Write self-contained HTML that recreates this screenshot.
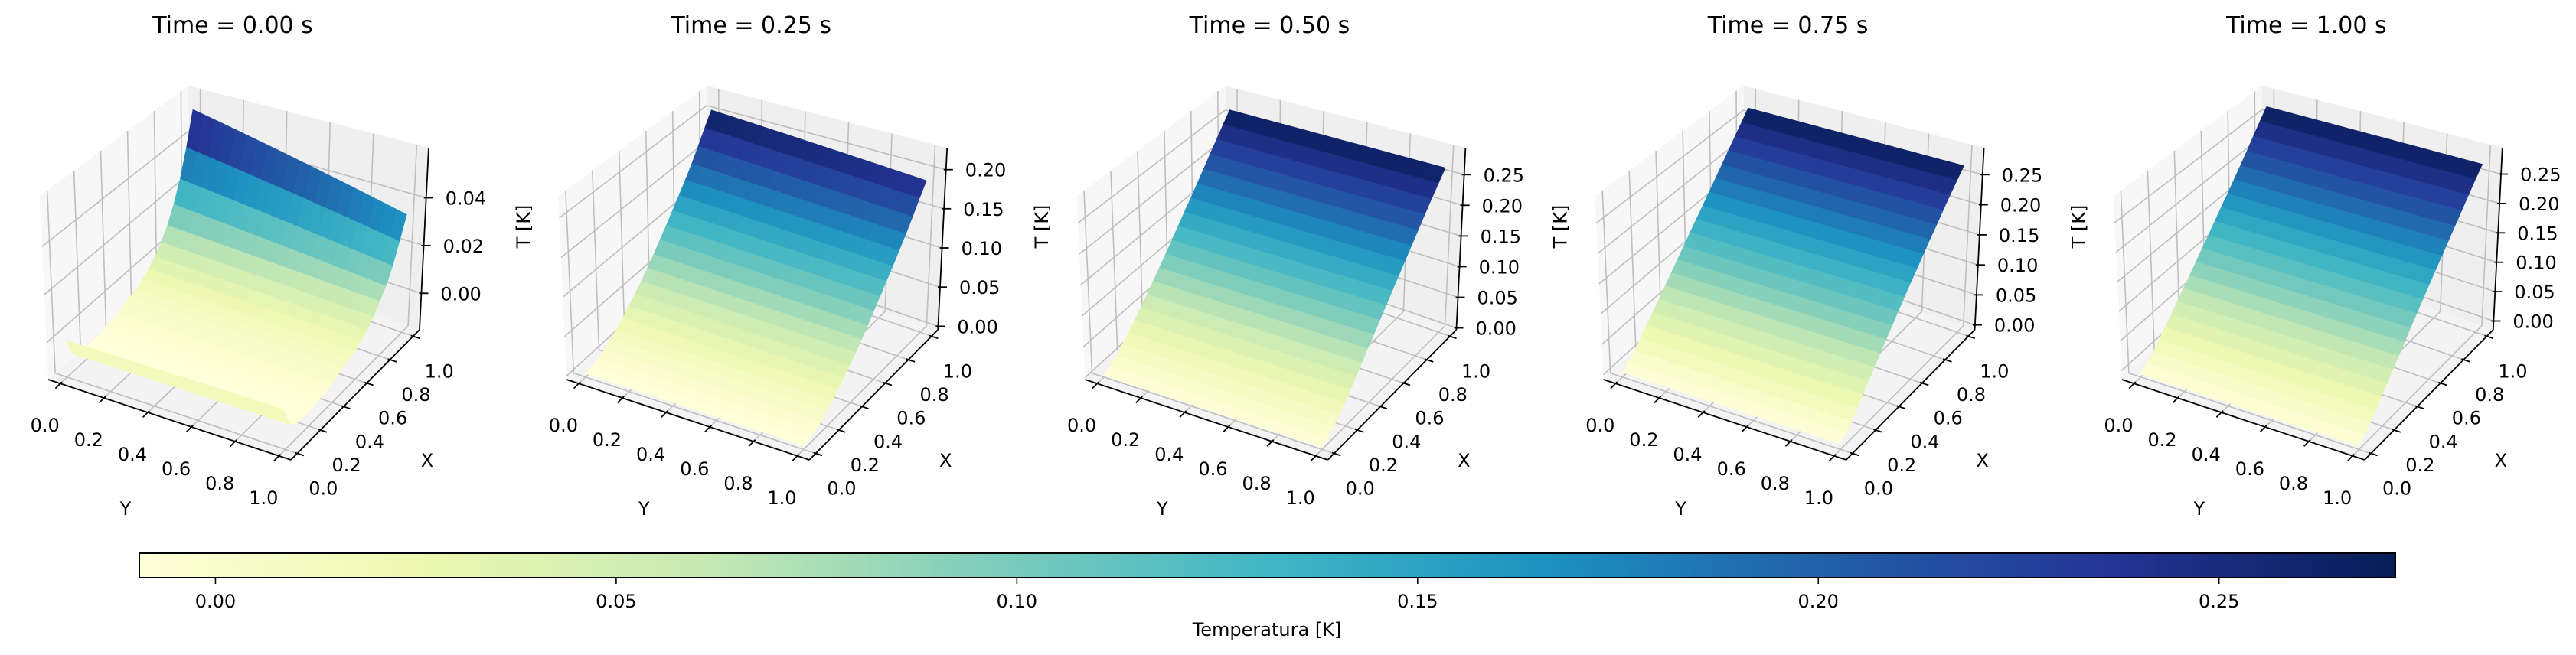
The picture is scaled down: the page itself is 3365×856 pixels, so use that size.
<!DOCTYPE html>
<html><head><meta charset="utf-8"><style>
html,body{margin:0;padding:0;background:#fff;}
svg{display:block;font-family:"DejaVu Sans","Liberation Sans",sans-serif;}
</style></head><body>
<svg id="fig" width="3365" height="856" viewBox="0 0 3365 856" xmlns="http://www.w3.org/2000/svg">
<defs>
<linearGradient id="cbgrad" x1="0" x2="1" y1="0" y2="0">
<stop offset="0" stop-color="#ffffd9"/><stop offset="0.125" stop-color="#edf8b1"/><stop offset="0.25" stop-color="#c7e9b4"/><stop offset="0.375" stop-color="#7fcdbb"/><stop offset="0.5" stop-color="#41b6c4"/><stop offset="0.625" stop-color="#1d91c0"/><stop offset="0.75" stop-color="#225ea8"/><stop offset="0.875" stop-color="#253494"/><stop offset="1" stop-color="#081d58"/>
</linearGradient>
</defs>
<g id="panels"></g>
<g id="colorbar"></g>
</svg>
<script>
const times = ["0.00","0.25","0.50","0.75","1.00"];
const xNodes = [0,0.05,0.1,0.15,0.2,0.25,0.3,0.35,0.4,0.45,0.5,0.55,0.6,0.65,0.7,0.75,0.8,0.85,0.9,0.95,1.0];
const p0y0 = [0.000,-0.008,-0.010,-0.010,-0.010,-0.010,-0.009,-0.009,-0.008,-0.007,-0.006,-0.005,-0.003,-0.001,0.002,0.006,0.011,0.018,0.027,0.039,0.054];
const p0y1 = [0.000,-0.008,-0.010,-0.010,-0.010,-0.010,-0.009,-0.009,-0.008,-0.007,-0.006,-0.005,-0.004,-0.002,0.000,0.003,0.007,0.011,0.017,0.025,0.034];
const p1y0 = [0,0.001,0.004,0.008,0.014,0.020,0.027,0.035,0.044,0.053,0.063,0.074,0.086,0.098,0.111,0.124,0.138,0.153,0.170,0.188,0.206];
const p1y1 = [0,0.001,0.004,0.007,0.013,0.018,0.025,0.032,0.040,0.049,0.058,0.068,0.079,0.090,0.102,0.114,0.127,0.141,0.156,0.173,0.189];
const p2y0 = [0,0.005,0.013,0.022,0.032,0.043,0.055,0.067,0.080,0.093,0.107,0.121,0.136,0.151,0.166,0.182,0.198,0.215,0.232,0.249,0.266];
const p2y1 = [0,0.005,0.013,0.022,0.032,0.043,0.055,0.067,0.080,0.093,0.107,0.121,0.135,0.150,0.165,0.181,0.197,0.214,0.231,0.248,0.265];
const p3y0 = [0,0.007,0.017,0.028,0.040,0.052,0.065,0.078,0.091,0.104,0.118,0.132,0.146,0.160,0.175,0.190,0.205,0.221,0.237,0.253,0.270];
const p3y1 = [0,0.007,0.017,0.028,0.040,0.052,0.065,0.078,0.091,0.104,0.118,0.132,0.146,0.160,0.175,0.190,0.205,0.221,0.237,0.253,0.269];
const p4y0 = [-0.010,-0.002,0.008,0.019,0.031,0.043,0.056,0.069,0.082,0.096,0.110,0.124,0.139,0.154,0.169,0.185,0.201,0.218,0.236,0.254,0.272];
const p4y1 = [-0.010,-0.002,0.008,0.019,0.031,0.043,0.056,0.069,0.082,0.096,0.110,0.124,0.139,0.154,0.169,0.185,0.201,0.218,0.236,0.254,0.271];
const zLo = [-0.0153,-0.0045,-0.003,-0.008,-0.015];
const zHi = [0.061,0.228,0.294,0.295,0.295];
const zTicks0 = [0.00,0.02,0.04];
const zTicks1 = [0.00,0.05,0.10,0.15,0.20];
const zTicks2 = [0.00,0.05,0.10,0.15,0.20,0.25];
const xyTicks = [0.0,0.2,0.4,0.6,0.8,1.0];
const cbTicks = [0.00,0.05,0.10,0.15,0.20,0.25];
const cbMin = -0.0095, cbMax = 0.272;

const profiles = [[p0y0,p0y1],[p1y0,p1y1],[p2y0,p2y1],[p3y0,p3y1],[p4y0,p4y1]];
const zTickSets = [zTicks0,zTicks1,zTicks2,zTicks2,zTicks2];

const NS = "http://www.w3.org/2000/svg";
function mk(tag, attrs, parent){const e=document.createElementNS(NS,tag);for(const k in attrs)e.setAttribute(k,attrs[k]);if(parent)parent.appendChild(e);return e;}

const stops = ["#ffffd9","#edf8b1","#c7e9b4","#7fcdbb","#41b6c4","#1d91c0","#225ea8","#253494","#081d58"].map(h=>[parseInt(h.slice(1,3),16),parseInt(h.slice(3,5),16),parseInt(h.slice(5,7),16)]);
function cmap(t){t=Math.max(0,Math.min(1,t));const s=t*8;const i=Math.min(7,Math.floor(s));const f=s-i;const a=stops[i],b=stops[i+1];return "rgb("+[0,1,2].map(k=>Math.round(a[k]+(b[k]-a[k])*f)).join(",")+")";}

// box geometry (panel-local pixels)
const G = {Lf:[63,496],Ff:[380,601],Rf:[548,431],Bf:[247,327],Lt:[52,256],Ft:[365,336],Rt:[560,193],Bt:[246,112]};
const AX_LO=-0.055, AX_HI=1.055;
function bil(P,Q,R,S,u,v){ // P:(u0,v0)=L Q:(u0,v1)=F R:(u1,v1) S:(u1,v0)=B
  return [0,1].map(k=>(1-u)*(1-v)*P[k]+(1-u)*v*Q[k]+u*v*R[k]+u*(1-v)*S[k]);}
function proj(x,y,z,pi){
  const u=(x-AX_LO)/(AX_HI-AX_LO), v=(y-AX_LO)/(AX_HI-AX_LO);
  const w=(z-zLo[pi])/(zHi[pi]-zLo[pi]);
  const f=bil(G.Lf,G.Ff,G.Rf,G.Bf,u,v), t=bil(G.Lt,G.Ft,G.Rt,G.Bt,u,v);
  return [f[0]+(t[0]-f[0])*w, f[1]+(t[1]-f[1])*w];}
function pt(p){return p[0].toFixed(1)+","+p[1].toFixed(1);}

const panels=document.getElementById("panels");
times.forEach((tm,pi)=>{
  const g=mk("g",{transform:"translate("+(677.2*pi).toFixed(1)+",0)"},panels);
  
  
  const lo=zLo[pi], hi=zHi[pi], A=AX_LO, B=AX_HI;
  // panes
  const paneL=mk("polygon",{points:[proj(A,A,lo,pi),proj(B,A,lo,pi),proj(B,A,hi,pi),proj(A,A,hi,pi)].map(pt).join(" "),fill:"#f7f7f7"},g);
  
  
  const paneR=mk("polygon",{points:[proj(B,A,lo,pi),proj(B,B,lo,pi),proj(B,B,hi,pi),proj(B,A,hi,pi)].map(pt).join(" "),fill:"#efefef"},g);
  
  
  const paneF=mk("polygon",{points:[proj(A,A,lo,pi),proj(A,B,lo,pi),proj(B,B,lo,pi),proj(B,A,lo,pi)].map(pt).join(" "),fill:"#f3f3f3"},g);
  
  
  // grid
  const gg=mk("g",{stroke:"#bebebe","stroke-width":"1.6",fill:"none"},g);
  
  
  function line(p,q,par){return mk("line",{x1:p[0].toFixed(1),y1:p[1].toFixed(1),x2:q[0].toFixed(1),y2:q[1].toFixed(1)},par);}
  xyTicks.forEach(t=>{
    line(proj(t,A,lo,pi),proj(t,A,hi,pi),gg); // left pane vertical (x)
    line(proj(B,t,lo,pi),proj(B,t,hi,pi),gg); // right pane vertical (y)
    line(proj(t,A,lo,pi),proj(t,B,lo,pi),gg); // floor x
    line(proj(A,t,lo,pi),proj(B,t,lo,pi),gg); // floor y
  });
  zTickSets[pi].forEach(z=>{
    line(proj(A,A,z,pi),proj(B,A,z,pi),gg);
    line(proj(B,A,z,pi),proj(B,B,z,pi),gg);
  });
  // surface
  const [py0,py1]=profiles[pi];
  let mn=Infinity,mx=-Infinity;
  py0.concat(py1).forEach(v=>{mn=Math.min(mn,v);mx=Math.max(mx,v);});
  const NY=20, facets=[];
  function val(i,j){const s=j/NY;return py0[i]+(py1[i]-py0[i])*s;}
  for(let i=0;i<xNodes.length-1;i++){for(let j=0;j<NY;j++){
    const y0=j/NY,y1=(j+1)/NY,x0=xNodes[i],x1=xNodes[i+1];
    const z00=val(i,j),z01=val(i,j+1),z11=val(i+1,j+1),z10=val(i+1,j);
    const zm=(z00+z01+z11+z10)/4;
    facets.push({d:(x0+x1)/2+(1-(y0+y1)/2),pts:[proj(x0,y0,z00,pi),proj(x0,y1,z01,pi),proj(x1,y1,z11,pi),proj(x1,y0,z10,pi)],c:cmap((zm-mn)/(mx-mn))});
  }}
  facets.sort((a,b)=>b.d-a.d);
  const sg=mk("g",{},g);
  
  
  facets.forEach(f=>{
    const p=mk("polygon",{points:f.pts.map(pt).join(" "),fill:f.c,stroke:f.c,"stroke-width":"0.6","stroke-linejoin":"round"},sg);
    
    
  });
  // axes
  const ag=mk("g",{stroke:"#000","stroke-width":"1.8"},g);
  
  
  line(proj(A,A,lo,pi),proj(A,B,lo,pi),ag);
  line(proj(A,B,lo,pi),proj(B,B,lo,pi),ag);
  line(proj(B,B,lo,pi),proj(B,B,hi,pi),ag);
  const tg=mk("g",{"font-size":"24",fill:"#000"},g);
  
  
  const dirX=[G.Rf[0]-G.Ff[0],G.Rf[1]-G.Ff[1]], lx=Math.hypot(...dirX);
  const dirY=[G.Lf[0]-G.Ff[0],G.Lf[1]-G.Ff[1]], ly=Math.hypot(...dirY);
  xyTicks.forEach(t=>{
    // Y axis ticks (front-left edge)
    const p=proj(A,t,lo,pi);
    line([p[0]+dirX[0]/lx*3,p[1]+dirX[1]/lx*3],[p[0]-dirX[0]/lx*9,p[1]-dirX[1]/lx*9],ag);
    const ty=mk("text",{x:(p[0]-20).toFixed(1),y:(p[1]+63).toFixed(1),"text-anchor":"middle"},tg);
    ty.textContent=t.toFixed(1);
    
    
    // X axis ticks (front-right edge)
    const q=proj(t,B,lo,pi);
    line([q[0]+dirY[0]/ly*3,q[1]+dirY[1]/ly*3],[q[0]-dirY[0]/ly*9,q[1]-dirY[1]/ly*9],ag);
    const tx=mk("text",{x:(q[0]+34).toFixed(1),y:(q[1]+54).toFixed(1),"text-anchor":"middle"},tg);
    tx.textContent=t.toFixed(1);
    
    
  });
  zTickSets[pi].forEach(z=>{
    const p=proj(B,B,z,pi);
    line([p[0]-3,p[1]],[p[0]+9,p[1]],ag);
    const tz=mk("text",{x:(p[0]+25).toFixed(1),y:(p[1]+9).toFixed(1)},tg);
    tz.textContent=z.toFixed(2);
    
    
  });
  const yl=mk("text",{x:"164",y:"673","font-size":"24","text-anchor":"middle"},g);
  yl.textContent="Y";
  
  
  const xl=mk("text",{x:"558",y:"610","font-size":"24","text-anchor":"middle"},g);
  xl.textContent="X";
  
  
  const zl=mk("text",{x:"0",y:"0","font-size":"24","text-anchor":"middle",transform:"translate(692,296) rotate(-90)"},g);
  zl.textContent="T [K]";
  
  
  const ti=mk("text",{x:"304",y:"43","font-size":"30","text-anchor":"middle"},g);
  ti.textContent="Time = "+tm+" s";
  
  
});

// colorbar
const cb=document.getElementById("colorbar");
const CB_X0=182, CB_X1=3129, CB_Y0=723, CB_Y1=755;
function cbx(v){return CB_X0+(v-cbMin)/(cbMax-cbMin)*(CB_X1-CB_X0);}
const bar=mk("rect",{x:CB_X0,y:CB_Y0,width:CB_X1-CB_X0,height:CB_Y1-CB_Y0,fill:"url(#cbgrad)",stroke:"#000","stroke-width":"2"},cb);


cbTicks.forEach(v=>{
  const x=cbx(v);
  const tk=mk("line",{x1:x,y1:CB_Y1,x2:x,y2:CB_Y1+8,stroke:"#000","stroke-width":"1.6"},cb);
  
  
  const tl=mk("text",{x:x,y:CB_Y1+39,"font-size":"24","text-anchor":"middle"},cb);
  tl.textContent=v.toFixed(2);
  
  
});
const cbl=mk("text",{x:"1655",y:"831","font-size":"24","text-anchor":"middle"},cb);
cbl.textContent="Temperatura [K]";


</script>
</body></html>
